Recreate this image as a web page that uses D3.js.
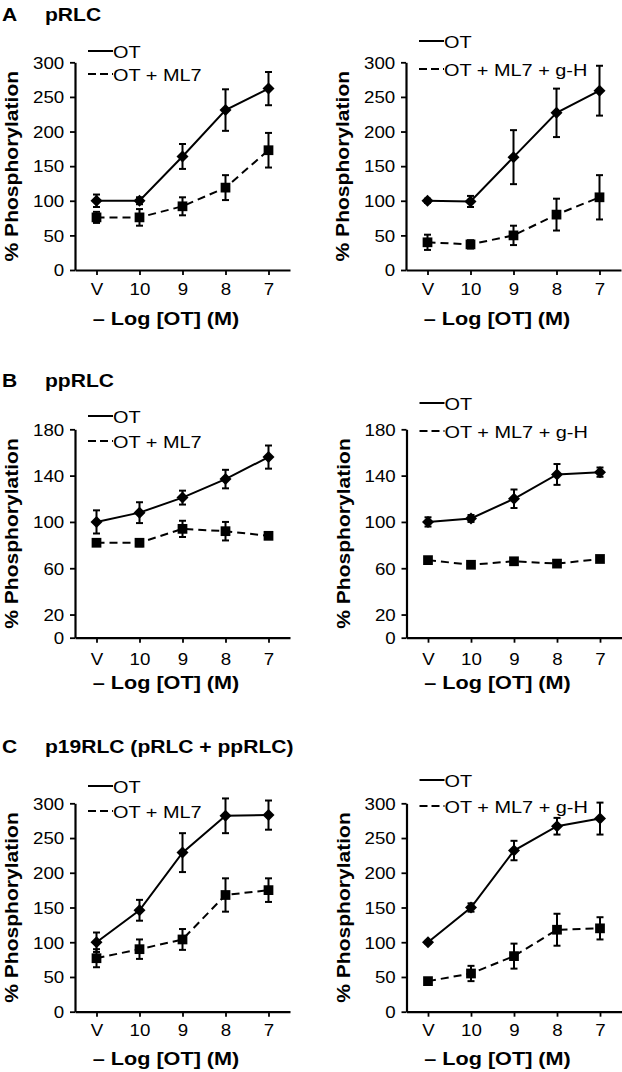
<!DOCTYPE html>
<meta charset="utf-8">
<script src="https://cdn.jsdelivr.net/npm/d3@7"></script>
<style>
    body { margin: 0; background: #fff; }
    text { font-family: "Liberation Sans", Arial, Helvetica, sans-serif; fill: #000; }
</style>
<body>
<script>
    // categories and ticks
    var categories = ["V", "10", "9", "8", "7"];
    var ticks300 = [0, 50, 100, 150, 200, 250, 300];
    var ticks180 = [0, 20, 60, 100, 140, 180];

    // A - pRLC
    var aOT1 = [100, 100, 164, 231, 262], aOT1err = [9, 5, 18, 30, 24];
    var aML7 = [76, 76, 92, 119, 173], aML7err = [8, 12, 13, 18, 25];
    var aOT2 = [100, 99, 163, 227, 259], aOT2err = [3, 8, 39, 35, 36];
    var aGH = [40, 37, 50, 80, 105], aGHerr = [11, 6, 14, 23, 32];
    // B - ppRLC
    var bOT1 = [100, 108, 121, 137, 156], bOT1err = [10, 9, 6, 8, 10];
    var bML7 = [82, 82, 94, 92, 88], bML7err = [2, 3, 7, 8, 1];
    var bOT2 = [100, 103, 120, 141, 143], bOT2err = [4, 3, 8, 9, 4];
    var bGH = [67, 63, 66, 64, 68], bGHerr = [2, 2, 2, 2, 2];
    // C - p19RLC
    var cOT1 = [100, 146, 229, 282, 283], cOT1err = [14, 15, 28, 25, 21];
    var cML7 = [77, 90, 104, 168, 175], cML7err = [13, 14, 15, 24, 17];
    var cOT2 = [100, 150, 232, 267, 278], cOT2err = [2, 6, 14, 12, 23];
    var cGH = [44, 55, 80, 118, 120], cGHerr = [3, 11, 18, 23, 16];

    var legendL = ["OT", "OT + ML7"];
    var legendR = ["OT", "OT + ML7 + g-H"];

    var SX = 1.17; // the figure text is stretched sideways

    var svg = d3.select("body").append("svg")
        .attr("width", 622)
        .attr("height", 1072);

    var rows = [
        { letter: "A", title: "pRLC", titleY: 21, bottom: 270, top: 62.3, max: 300, ticks: ticks300,
          tickY: 25, titleOff: 55,
          charts: [
            { ax: 75, leg: [58, 81], names: legendL, s: [aOT1, aML7], e: [aOT1err, aML7err] },
            { ax: 406, leg: [48, 76], names: legendR, s: [aOT2, aGH], e: [aOT2err, aGHerr] }
          ] },
        { letter: "B", title: "ppRLC", titleY: 387, bottom: 637.7, top: 429.3, max: 180, ticks: ticks180,
          tickY: 27, titleOff: 51,
          charts: [
            { ax: 75, leg: [423, 448], names: legendL, s: [bOT1, bML7], e: [bOT1err, bML7err] },
            { ax: 406.5, leg: [410, 438], names: legendR, s: [bOT2, bGH], e: [bOT2err, bGHerr] }
          ] },
        { letter: "C", title: "p19RLC (pRLC + ppRLC)", titleY: 753, bottom: 1011.7, top: 803.3, max: 300, ticks: ticks300,
          tickY: 24, titleOff: 53,
          charts: [
            { ax: 75, leg: [793, 818], names: legendL, s: [cOT1, cML7], e: [cOT1err, cML7err] },
            { ax: 406.5, leg: [787, 813], names: legendR, s: [cOT2, cGH], e: [cOT2err, cGHerr] }
          ] }
    ];

    function txt(g, x, y, s, size, anchor, weight) {
        return g.append("text")
            .attr("transform", "translate(" + x + "," + y + ") scale(" + SX + ",1)")
            .attr("text-anchor", anchor || "start")
            .style("font-size", size + "px")
            .style("font-weight", weight || "normal")
            .text(s);
    }

    var diamond = d3.symbol().type(d3.symbolSquare).size(72);
    var square = d3.symbol().type(d3.symbolSquare).size(95);
    var dash = "8,5";

    rows.forEach(function (row) {
        txt(svg, 2, row.titleY, row.letter, 18, "start", "bold");
        txt(svg, 45, row.titleY, row.title, 18, "start", "bold");

        row.charts.forEach(function (c) {
            var g = svg.append("g");
            var x = d3.scalePoint().domain(categories).range([c.ax, c.ax + 215]).padding(0.5);
            var y = d3.scaleLinear().domain([0, row.max]).range([row.bottom, row.top]);

            // axes
            var yAxis = g.append("g")
                .attr("transform", "translate(" + c.ax + ",0)")
                .call(d3.axisLeft(y).tickValues(row.ticks).tickSize(5).tickSizeOuter(0).tickPadding(4.2));
            yAxis.selectAll(".tick text").attr("transform", "scale(" + SX + ",1)")
                .style("font-size", "16px").attr("dy", "0.36em");

            var xAxis = g.append("g")
                .attr("transform", "translate(0," + row.bottom + ")")
                .call(d3.axisBottom(x).tickSize(5).tickSizeOuter(0).tickPadding(0));
            xAxis.selectAll(".tick text").attr("transform", "scale(" + SX + ",1)")
                .attr("y", row.tickY).attr("dy", 0)
                .style("font-size", "16px");

            g.selectAll(".domain").attr("stroke", "#000").attr("stroke-width", 2.2);
            g.selectAll(".tick line").attr("stroke", "#000").attr("stroke-width", 1.8);
            g.selectAll(".tick text").style("font-family", "'Liberation Sans', Arial, sans-serif").attr("fill", "#000");

            // axis titles
            txt(g, c.ax + 91, row.bottom + row.titleOff, "\u2013 Log [OT] (M)", 18.5, "middle", "bold");
            g.append("text")
                .attr("transform", "translate(" + (c.ax - 57) + "," + ((row.bottom + row.top) / 2) + ") rotate(-90) scale(" + SX + ",1)")
                .attr("text-anchor", "middle")
                .style("font-size", "18px")
                .style("font-weight", "bold")
                .text("% Phosphorylation");

            // legend
            c.names.forEach(function (n, i) {
                var ly = c.leg[i];
                g.append("line")
                    .attr("x1", c.ax + 13).attr("x2", c.ax + 38)
                    .attr("y1", ly - 7).attr("y2", ly - 7)
                    .attr("stroke", "#000").attr("stroke-width", 2)
                    .attr("stroke-dasharray", i ? "8,4" : null);
                txt(g, c.ax + 38, ly, n, 17, "start");
            });

            // series
            c.s.forEach(function (vals, si) {
                var errs = c.e[si];
                var line = d3.line()
                    .x(function (d, i) { return x(categories[i]); })
                    .y(function (d) { return y(d); });
                g.append("path")
                    .datum(vals)
                    .attr("d", line)
                    .attr("fill", "none")
                    .attr("stroke", "#000")
                    .attr("stroke-width", 2)
                    .attr("stroke-dasharray", si ? dash : null);

                var eb = g.append("g").selectAll("g")
                    .data(vals)
                    .enter().append("g");
                eb.append("line")
                    .attr("x1", function (d, i) { return x(categories[i]); })
                    .attr("x2", function (d, i) { return x(categories[i]); })
                    .attr("y1", function (d, i) { return y(d + errs[i]); })
                    .attr("y2", function (d, i) { return y(d - errs[i]); })
                    .attr("stroke", "#000").attr("stroke-width", 2);
                [1, -1].forEach(function (sgn) {
                    eb.append("line")
                        .attr("x1", function (d, i) { return x(categories[i]) - 3.5; })
                        .attr("x2", function (d, i) { return x(categories[i]) + 3.5; })
                        .attr("y1", function (d, i) { return y(d + sgn * errs[i]); })
                        .attr("y2", function (d, i) { return y(d + sgn * errs[i]); })
                        .attr("stroke", "#000").attr("stroke-width", 2);
                });

                g.append("g").selectAll("path")
                    .data(vals)
                    .enter().append("path")
                    .attr("d", si ? square : diamond)
                    .attr("transform", function (d, i) {
                        return "translate(" + x(categories[i]) + "," + y(d) + ")" + (si ? "" : " rotate(45)");
                    })
                    .attr("fill", "#000");
            });
        });
    });
</script>
</body>
